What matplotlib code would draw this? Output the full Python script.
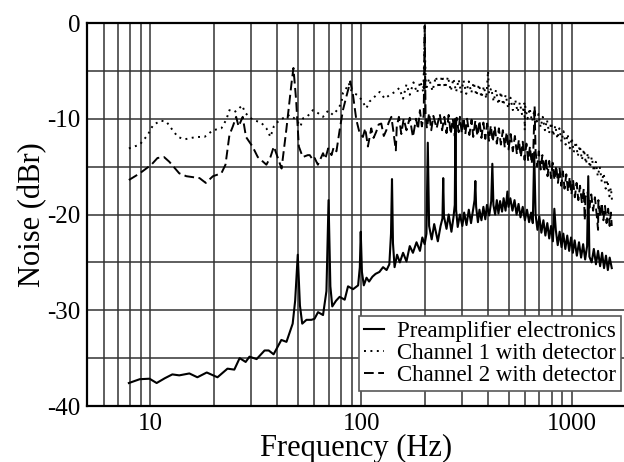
import numpy as np
import matplotlib
matplotlib.use('Agg')
import matplotlib.pyplot as plt
from matplotlib.ticker import FixedLocator, FixedFormatter, NullFormatter

# preamplifier electronics (solid)
pre_freq = [7.9, 8.9, 9.9, 10.7, 11.7, 12.7, 13.7, 15.3, 16.7, 18.5, 20.8, 23.2, 25.0, 26.5, 28.3,
            29.5, 31.9, 34.8, 36.4, 38.4, 41.8, 44.2, 47.3, 48.6, 50.0, 51.2, 52.5, 55.0, 58.0, 60.0,
            62.4, 65.9, 68.4, 70.0, 71.4, 72.9, 76.0, 79.0, 83.5, 86.6, 91.5, 96.7, 98.5, 99.5, 100.8,
            102.9, 106, 109, 113, 117, 122, 127, 132, 136, 138.5, 140, 141.5, 144, 148, 152.5,
            158, 164, 170, 176, 183, 190, 195, 200, 204, 207, 210, 216, 222, 231, 238,
            243, 245, 247, 254, 260, 268, 274, 278, 280, 282, 287, 294, 302, 308, 316,
            324, 332, 340, 345, 348, 351, 358, 364, 372, 380, 388, 395, 405, 414, 419,
            424, 432, 440, 448, 456, 466, 474, 484, 494, 500, 510, 522, 534, 546, 558,
            570, 584, 598, 612, 626, 640, 652, 662, 672, 686, 700, 716, 732, 748, 764,
            780, 796, 812, 825, 838, 856, 874, 892, 910, 930, 950, 970, 990, 1010, 1030,
            1055, 1080, 1105, 1130, 1155, 1180, 1195, 1210, 1240, 1270, 1300, 1330, 1360, 1390, 1420,
            1450, 1480, 1510, 1545]
pre_db = [-37.6, -37.2, -37.15, -37.6, -37.1, -36.7, -36.8, -36.6, -37.0, -36.5, -37.0, -36.1, -36.2, -35.0, -35.4,
          -34.85, -35.1, -34.2, -34.2, -34.6, -33.1, -33.3, -31.4, -29.0, -24.2, -29.5, -31.4, -31.0, -31.0, -30.9,
          -30.2, -30.5, -28.0, -18.5, -27.5, -29.6, -29.0, -28.6, -28.9, -27.5, -27.8, -27.4, -25.5, -21.8, -26.0,
          -27.4, -26.6, -27.0, -26.5, -26.2, -26.0, -25.5, -25.8, -25.2, -22.0, -16.3, -23.0, -25.5, -24.2, -25.0,
          -24.0, -24.9, -23.3, -24.0, -22.9, -23.8, -22.4, -23.1, -22.0, -12.5, -21.2, -22.6, -21.0, -22.8, -21.2,
          -20.4, -16.2, -20.2, -21.5, -20.0, -21.8, -20.3, -19.0, -10.0, -19.5, -21.3, -20.0, -21.2, -19.8, -21.1,
          -19.5, -20.9, -19.4, -18.5, -16.5, -19.2, -20.8, -19.5, -20.6, -19.2, -20.5, -19.0, -20.1, -18.6, -14.7,
          -19.0, -20.0, -18.5, -19.9, -18.6, -19.7, -18.3, -19.6, -17.6, -19.2, -18.3, -19.6, -18.5, -20.0, -18.9,
          -20.3, -19.2, -20.6, -19.5, -20.8, -19.8, -20.9, -13.5, -20.0, -21.6, -20.2, -21.9, -20.6, -22.2, -20.9,
          -22.5, -21.2, -22.8, -19.4, -21.6, -23.2, -21.8, -23.4, -22.0, -23.6, -22.2, -23.8, -22.4, -24.0, -22.7,
          -24.3, -22.9, -24.5, -23.1, -24.7, -23.3, -16.0, -24.4, -25.0, -23.6, -25.2, -23.8, -25.4, -24.0, -25.6,
          -24.3, -25.8, -24.5, -25.6]

# channel 1 with detector (dotted)
ch1_freq = [7.9, 8.9, 9.7, 10.3, 11.2, 11.9, 12.75, 13.5, 14.5, 16.5, 18.05, 19.8, 21.7, 22.9, 23.7,
            25.0, 25.9, 27.2, 28.2, 30.5, 33.5, 35.5, 37.1, 38.5, 40.3, 42.5, 45.7, 49.2, 51.5, 53,
            55.3, 59, 62.3, 65.9, 69.7, 73.5, 76.8, 80.5, 81.9, 85, 87.3, 89.5, 92, 95.5, 100.3,
            105.8, 109.6, 115.9, 122.4, 129.4, 136.8, 144.5, 151.5, 158, 164, 170, 177, 184, 191,
            197, 200, 203, 210, 218, 226, 234, 242, 250, 258, 266, 274, 282, 290, 298,
            306, 315, 324, 333, 342, 352, 362, 372, 382, 392, 400, 404, 414, 425, 436,
            448, 460, 472, 485, 498, 511, 524, 538, 552, 566, 580, 595, 597, 600, 615,
            630, 646, 662, 678, 694, 710, 727, 744, 761, 779, 797, 815, 834, 853, 872,
            892, 912, 933, 954, 976, 998, 1020, 1043, 1066, 1090, 1115, 1140, 1165, 1190, 1216,
            1242, 1270, 1298, 1326, 1355, 1385, 1415, 1445, 1475, 1505, 1530, 1550]
ch1_db = [-13.1, -12.7, -11.7, -10.65, -10.2, -10.3, -11.2, -11.9, -12.15, -11.9, -11.9, -11.2, -11.0, -10.1, -9.1,
          -9.3, -9.1, -8.6, -9.4, -10.1, -10.4, -11.0, -11.9, -10.8, -10.3, -9.95, -9.6, -10.1, -10.8, -9.95,
          -9.8, -9.1, -9.4, -9.8, -9.15, -9.6, -9.1, -8.4, -7.3, -6.8, -6.3, -7.0, -7.3, -7.5, -8.0,
          -8.9, -8.2, -7.7, -7.2, -7.9, -7.5, -7.2, -6.8, -7.9, -6.4, -7.5, -6.2, -7.3, -6.1,
          -7.2, -2.0, -7.0, -5.8, -7.1, -5.6, -6.8, -5.5, -6.8, -5.6, -7.1, -5.8, -7.2, -5.9, -7.3,
          -6.0, -7.4, -6.1, -7.3, -6.2, -7.6, -6.4, -7.8, -6.6, -7.9, -5.0, -7.4, -6.8, -8.2, -7.0,
          -8.5, -7.2, -8.6, -7.5, -8.9, -7.8, -9.1, -8.0, -9.3, -8.3, -9.6, -8.4, -11.2, -8.7, -10.0,
          -8.9, -10.3, -9.2, -10.6, -9.5, -10.9, -9.8, -11.2, -10.1, -11.5, -10.4, -11.8, -10.7, -12.1, -11.0,
          -12.4, -11.3, -12.7, -11.6, -13.1, -12.0, -13.5, -12.4, -13.9, -12.8, -14.3, -13.2, -14.7, -13.6, -15.1,
          -14.0, -15.5, -14.5, -16.0, -15.0, -16.6, -15.7, -17.3, -16.4, -18.1, -17.2, -18.6]

# channel 2 with detector (dashed)
ch2_freq = [7.9, 8.9, 10.1, 10.8, 11.6, 12.3, 13.7, 14.8, 17.1, 18.3, 19.8, 21.7, 22.7, 23.7, 24.6,
            25.5, 26.2, 27.4, 28.4, 30.5, 32.3, 35.5, 37.1, 38.5, 40.1, 41.9, 44.1, 46.7, 47.7, 49.1,
            50.6, 52.8, 55.8, 57, 59, 60.1, 62.3, 65.9, 67.5, 69.7, 72.3, 74, 76.3, 79, 81.9,
            85, 88.8, 91.4, 94.8, 98.3, 101.9, 104.5, 107.6, 111.6, 114.5, 117.9, 121, 124.5, 128, 131.6,
            135, 139, 141.5, 146, 147.5, 151, 155, 159, 164, 170, 176, 182, 186, 190, 194,
            198, 200, 202, 205, 210, 215, 220, 228, 236, 242, 248, 254, 260, 266, 272,
            278, 284, 290, 294, 300, 306, 312, 318, 326, 334, 340, 348, 356, 364, 372,
            380, 388, 396, 404, 412, 421, 430, 440, 450, 460, 470, 480, 490, 500, 512,
            524, 536, 548, 560, 572, 584, 596, 608, 620, 632, 644, 656, 665, 672, 684,
            696, 710, 724, 738, 752, 766, 780, 795, 810, 826, 842, 858, 874, 890, 906,
            922, 940, 958, 976, 994, 1012, 1032, 1052, 1072, 1092, 1115, 1138, 1150, 1160, 1185,
            1210, 1235, 1260, 1285, 1310, 1330, 1335, 1360, 1385, 1410, 1435, 1460, 1485, 1510, 1530,
            1545]
ch2_db = [-16.4, -15.7, -14.8, -14.1, -14.0, -14.5, -15.7, -16.0, -16.2, -16.7, -16.0, -15.7, -14.8, -11.7, -10.8,
          -9.8, -10.8, -9.8, -11.9, -12.9, -14.0, -14.8, -14.0, -12.9, -14.0, -15.2, -11.2, -6.3, -4.7, -8.0,
          -12.9, -14.0, -13.8, -13.8, -14.3, -14.1, -14.8, -13.6, -14.2, -13.1, -13.8, -13.0, -13.4, -11.2, -9.1,
          -7.7, -6.1, -7.5, -10.1, -11.5, -11.9, -11.0, -12.9, -11.0, -12.0, -11.35, -10.6, -10.5, -11.8, -11.2,
          -10.4, -9.8, -11.0, -13.3, -10.8, -9.8, -11.6, -10.0, -11.2, -9.9, -11.9, -10.0, -11.1, -9.1, -10.8,
          -9.6, -0.3, -9.5, -11.0, -9.4, -11.2, -9.7, -11.0, -9.5, -11.2, -9.8, -11.5, -9.6, -11.6, -10.0,
          -11.8, -9.9, -11.4, -9.8, -11.5, -9.9, -11.6, -10.0, -11.7, -10.1, -11.9, -10.2, -11.8, -10.2, -12.0,
          -10.4, -12.1, -10.5, -12.3, -10.7, -12.4, -10.8, -12.6, -11.0, -12.7, -11.2, -13.0, -11.4, -13.2, -11.6,
          -13.4, -11.8, -13.7, -12.2, -14.0, -12.4, -14.3, -12.6, -14.4, -12.9, -14.7, -13.1, -8.7, -13.4, -15.0,
          -13.4, -15.3, -13.8, -15.6, -14.1, -16.0, -14.4, -16.2, -14.6, -16.4, -14.9, -16.7, -15.2, -17.0, -15.5,
          -17.3, -15.8, -17.6, -16.1, -17.9, -16.4, -18.2, -16.7, -18.5, -17.0, -18.8, -17.3, -20.6, -18.2, -17.6,
          -19.3, -17.9, -19.6, -18.2, -20.0, -21.6, -18.5, -20.3, -18.8, -20.6, -19.1, -20.9, -19.4, -21.2, -19.8,
          -21.2]

y_ticks = [0, -10, -20, -30, -40]
x_ticks = [10, 100, 1000]

plt.rcParams['font.family'] = ['Liberation Serif', 'DejaVu Serif']
plt.rcParams['axes.unicode_minus'] = False

fig = plt.figure(figsize=(6.24, 4.62), dpi=100)
# right spine sits just past the image edge
ax = fig.add_axes([87 / 624, 56 / 462, 538.5 / 624, 383 / 462])

ax.plot(pre_freq, pre_db, color='black', lw=1.5, label='Preamplifier electronics')
ax.plot(ch1_freq, ch1_db, color='black', lw=1.4, linestyle=(0, (1, 2.3)), label='Channel 1 with detector')
ax.plot(ch2_freq, ch2_db, color='black', lw=1.4, linestyle=(0, (5, 2.3)), label='Channel 2 with detector')

ax.set_xscale('log')
ax.set_xlim(5, 1795)
ax.set_ylim(-40, 0)

ax.xaxis.set_major_locator(FixedLocator(x_ticks))
ax.xaxis.set_major_formatter(FixedFormatter([str(t) for t in x_ticks]))
minor = [m * d for d in (1, 10, 100) for m in range(2, 10) if 5 < m * d < 1795]
ax.xaxis.set_minor_locator(FixedLocator(minor))
ax.xaxis.set_minor_formatter(NullFormatter())
ax.yaxis.set_major_locator(FixedLocator(y_ticks))
ax.yaxis.set_major_formatter(FixedFormatter([str(t) for t in y_ticks]))
ax.yaxis.set_minor_locator(FixedLocator([-35, -25, -15, -5]))

ax.grid(True, which='both', color='0.2', lw=1.1)
ax.set_axisbelow(True)
ax.tick_params(which='both', length=0, labelsize=18, pad=5)
for s in ax.spines.values():
    s.set_linewidth(1.6)

ax.set_xlabel('Frequency (Hz)', fontsize=22, labelpad=-1)
ax.set_ylabel('Noise (dBr)', fontsize=22, labelpad=0)

leg = ax.legend(loc='lower right', bbox_to_anchor=(0.9917, 0.039), borderaxespad=0,
                fontsize=16.5, frameon=True, fancybox=False, framealpha=1,
                handlelength=0.9, handletextpad=0.55, labelspacing=0.05, borderpad=0.22)
leg.get_frame().set_edgecolor('0.35')
leg.get_frame().set_linewidth(1.2)

fig.savefig('out.png', dpi=100)
